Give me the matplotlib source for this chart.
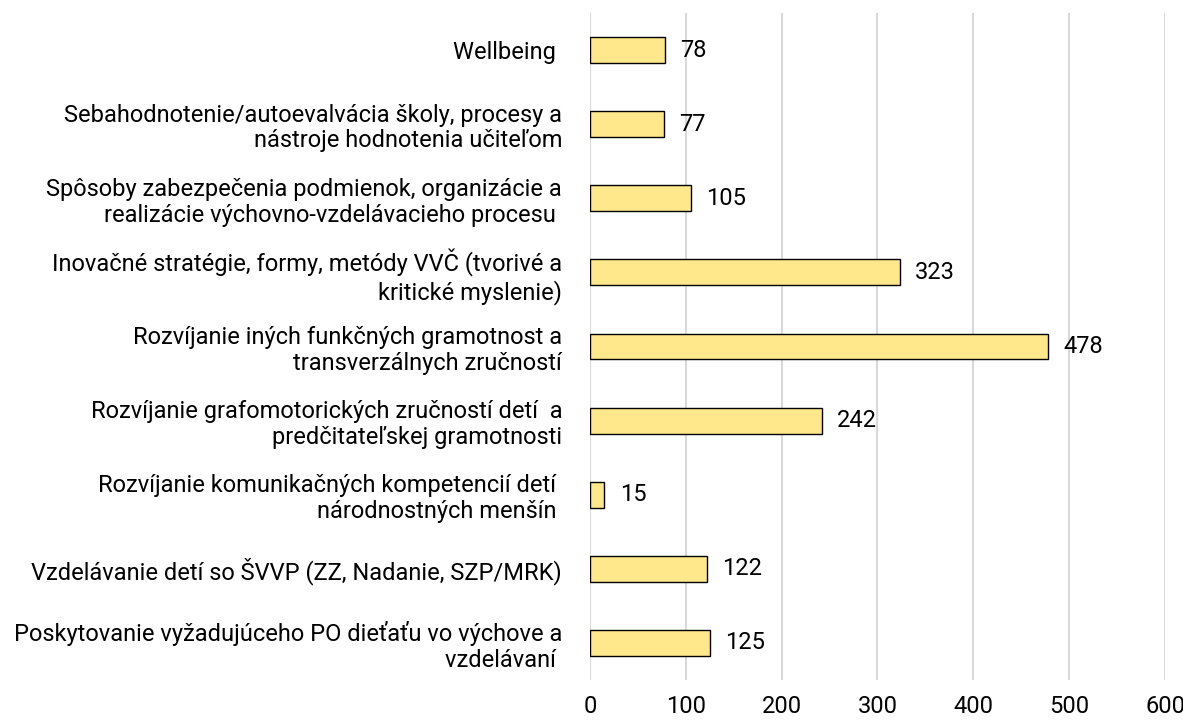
import matplotlib.pyplot as plt

plt.rcParams['font.family'] = ['Roboto', 'DejaVu Sans']

# kategorie (zhora nadol) a pocty
kategorie = [
    "Wellbeing ",
    "Sebahodnotenie/autoevalvácia školy, procesy a\nnástroje hodnotenia učiteľom",
    "Spôsoby zabezpečenia podmienok, organizácie a\nrealizácie výchovno-vzdelávacieho procesu ",
    "Inovačné stratégie, formy, metódy VVČ (tvorivé a\nkritické myslenie)",
    "Rozvíjanie iných funkčných gramotnost a\ntransverzálnych zručností",
    "Rozvíjanie grafomotorických zručností detí  a\npredčitateľskej gramotnosti",
    "Rozvíjanie komunikačných kompetencií detí \nnárodnostných menšín ",
    "Vzdelávanie detí so ŠVVP (ZZ, Nadanie, SZP/MRK)",
    "Poskytovanie vyžadujúceho PO dieťaťu vo výchove a\nvzdelávaní ",
]
hodnoty = [78, 77, 105, 323, 478, 242, 15, 122, 125]
x_ticks = [0, 100, 200, 300, 400, 500, 600]

fig = plt.figure(figsize=(11.83, 7.26), dpi=100)
ax = fig.add_axes([0.4987, 0.0634, 0.4861, 0.9186])

y = list(range(len(kategorie)))
bars = ax.barh(y, hodnoty, height=0.35, color='#FFE88C', edgecolor='black', linewidth=1, zorder=3)
ax.bar_label(bars, labels=[str(v) for v in hodnoty], padding=11, fontsize=17)

ax.set_ylim(len(kategorie) - 0.5, -0.5)
ax.set_yticks(y)
ax.set_yticklabels(kategorie, fontsize=17, linespacing=1.15)
ax.set_xlim(0, 600)
ax.set_xticks(x_ticks)
ax.tick_params(axis='x', labelsize=17, length=0, pad=11)
ax.tick_params(axis='y', length=0, pad=20)
ax.grid(axis='x', color='#D9D9D9', linewidth=1.5, zorder=0)
for s in ax.spines.values():
    s.set_visible(False)

fig.savefig('out.png', dpi=100)
